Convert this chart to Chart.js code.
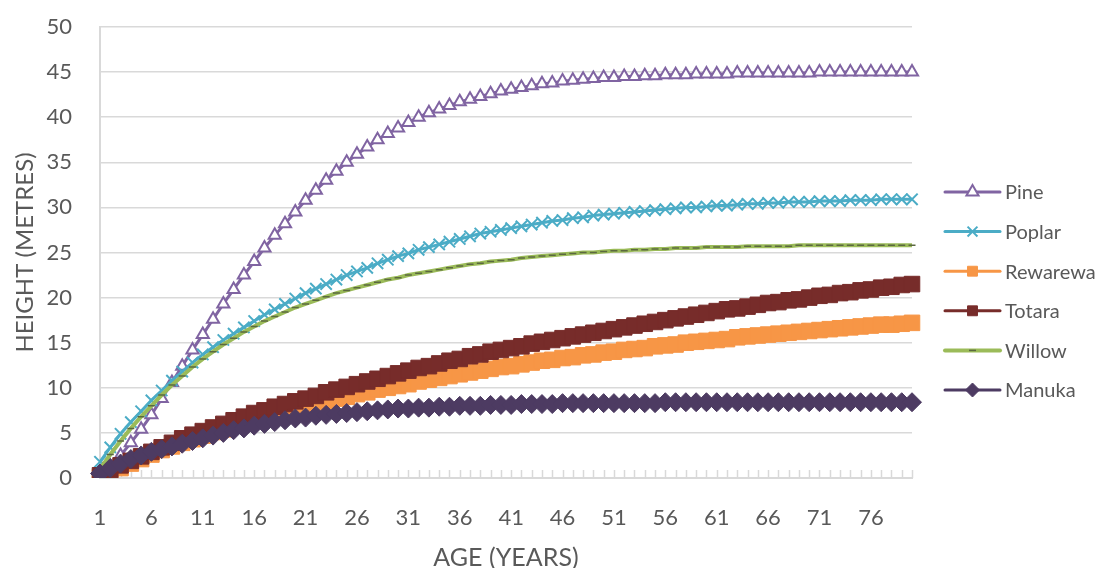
<!DOCTYPE html>
<html>
<head>
<meta charset="utf-8">
<script src="https://cdn.jsdelivr.net/npm/chart.js@4.4.1/dist/chart.umd.min.js"></script>
<style>
  html, body { margin: 0; padding: 0; background: #ffffff; }
  #wrap { width: 1109px; height: 568px; }
</style>
</head>
<body>
<div id="wrap"><canvas id="growth" width="1109" height="568"></canvas></div>
<script>
// Age of tree in years (category axis)
const ages = [
  1, 2, 3, 4, 5, 6, 7, 8, 9, 10, 11, 12, 13, 14, 15, 16, 17, 18, 19, 20,
  21, 22, 23, 24, 25, 26, 27, 28, 29, 30, 31, 32, 33, 34, 35, 36, 37, 38, 39, 40,
  41, 42, 43, 44, 45, 46, 47, 48, 49, 50, 51, 52, 53, 54, 55, 56, 57, 58, 59, 60,
  61, 62, 63, 64, 65, 66, 67, 68, 69, 70, 71, 72, 73, 74, 75, 76, 77, 78, 79, 80
];

// Height in metres for each species by age
const pine = [
  0.3, 1.3, 2.5, 3.9, 5.4, 7.0, 8.8, 10.6, 12.4, 14.2,
  15.9, 17.6, 19.3, 20.9, 22.5, 24.0, 25.5, 26.9, 28.2, 29.5,
  30.8, 31.9, 33.0, 34.0, 35.0, 35.9, 36.7, 37.5, 38.2, 38.8,
  39.4, 40.0, 40.5, 40.9, 41.3, 41.7, 42.0, 42.3, 42.6, 42.9,
  43.1, 43.3, 43.5, 43.7, 43.8, 44.0, 44.1, 44.2, 44.3, 44.4,
  44.4, 44.5, 44.5, 44.6, 44.6, 44.7, 44.7, 44.7, 44.8, 44.8,
  44.8, 44.8, 44.9, 44.9, 44.9, 44.9, 44.9, 44.9, 44.9, 44.9,
  45.0, 45.0, 45.0, 45.0, 45.0, 45.0, 45.0, 45.0, 45.0, 45.0
];
const poplar = [
  1.8, 3.4, 4.9, 6.2, 7.4, 8.6, 9.7, 10.8, 11.8, 12.8,
  13.7, 14.5, 15.3, 16.0, 16.7, 17.4, 18.1, 18.7, 19.3, 19.9,
  20.5, 21.0, 21.5, 22.0, 22.5, 22.9, 23.3, 23.8, 24.2, 24.6,
  24.9, 25.3, 25.6, 25.9, 26.2, 26.5, 26.8, 27.1, 27.3, 27.5,
  27.7, 27.9, 28.1, 28.3, 28.5, 28.6, 28.8, 28.9, 29.1, 29.2,
  29.3, 29.4, 29.5, 29.6, 29.7, 29.8, 29.9, 30.0, 30.0, 30.1,
  30.2, 30.2, 30.3, 30.4, 30.4, 30.5, 30.5, 30.6, 30.6, 30.6,
  30.7, 30.7, 30.7, 30.8, 30.8, 30.8, 30.9, 30.9, 30.9, 30.9
];
const rewarewa = [
  0.1, 0.6, 1.1, 1.6, 2.1, 2.6, 3.1, 3.5, 3.9, 4.3,
  4.7, 5.1, 5.4, 5.8, 6.1, 6.5, 6.8, 7.1, 7.4, 7.7,
  8.0, 8.3, 8.5, 8.8, 9.0, 9.3, 9.5, 9.8, 10.0, 10.2,
  10.4, 10.7, 10.9, 11.1, 11.3, 11.5, 11.7, 11.9, 12.1, 12.3,
  12.4, 12.6, 12.8, 13.0, 13.1, 13.3, 13.4, 13.6, 13.7, 13.9,
  14.0, 14.2, 14.3, 14.4, 14.6, 14.7, 14.8, 15.0, 15.1, 15.2,
  15.3, 15.4, 15.6, 15.7, 15.8, 15.9, 16.0, 16.1, 16.2, 16.3,
  16.4, 16.5, 16.6, 16.7, 16.8, 16.9, 17.0, 17.0, 17.1, 17.2
];
const totara = [
  0.3, 0.9, 1.4, 1.9, 2.4, 2.9, 3.4, 3.9, 4.4, 4.8,
  5.2, 5.6, 6.0, 6.4, 6.8, 7.2, 7.5, 7.9, 8.2, 8.5,
  8.8, 9.1, 9.5, 9.8, 10.1, 10.4, 10.7, 11.0, 11.3, 11.6,
  11.9, 12.2, 12.4, 12.7, 13.0, 13.2, 13.5, 13.7, 14.0, 14.2,
  14.4, 14.6, 14.9, 15.1, 15.3, 15.5, 15.7, 15.9, 16.1, 16.3,
  16.5, 16.7, 16.9, 17.1, 17.3, 17.5, 17.7, 17.9, 18.1, 18.3,
  18.5, 18.7, 18.8, 19.0, 19.2, 19.4, 19.5, 19.7, 19.8, 20.0,
  20.2, 20.3, 20.5, 20.6, 20.8, 20.9, 21.1, 21.2, 21.4, 21.5
];
const willow = [
  1.0, 2.6, 4.1, 5.5, 6.8, 8.0, 9.2, 10.3, 11.3, 12.3,
  13.2, 14.0, 14.8, 15.5, 16.2, 16.8, 17.4, 17.9, 18.4, 18.9,
  19.3, 19.7, 20.1, 20.5, 20.8, 21.1, 21.4, 21.7, 22.0, 22.2,
  22.5, 22.7, 22.9, 23.1, 23.3, 23.5, 23.7, 23.8, 24.0, 24.1,
  24.2, 24.4, 24.5, 24.6, 24.7, 24.8, 24.9, 25.0, 25.0, 25.1,
  25.2, 25.2, 25.3, 25.3, 25.4, 25.4, 25.5, 25.5, 25.5, 25.6,
  25.6, 25.6, 25.6, 25.7, 25.7, 25.7, 25.7, 25.7, 25.8, 25.8,
  25.8, 25.8, 25.8, 25.8, 25.8, 25.8, 25.8, 25.8, 25.8, 25.8
];
const manuka = [
  0.5, 1.1, 1.6, 2.1, 2.5, 2.9, 3.2, 3.5, 3.8, 4.1,
  4.4, 4.7, 5.0, 5.3, 5.5, 5.8, 6.0, 6.2, 6.4, 6.6,
  6.7, 6.9, 7.0, 7.1, 7.2, 7.3, 7.4, 7.5, 7.6, 7.7,
  7.7, 7.8, 7.8, 7.9, 7.9, 8.0, 8.0, 8.0, 8.1, 8.1,
  8.1, 8.2, 8.2, 8.2, 8.2, 8.3, 8.3, 8.3, 8.3, 8.3,
  8.3, 8.3, 8.3, 8.3, 8.3, 8.4, 8.4, 8.4, 8.4, 8.4,
  8.4, 8.4, 8.4, 8.4, 8.4, 8.4, 8.4, 8.4, 8.4, 8.4,
  8.4, 8.4, 8.4, 8.4, 8.4, 8.4, 8.4, 8.4, 8.4, 8.4
];

const speciesNames = ['Pine', 'Poplar', 'Rewarewa', 'Totara', 'Willow', 'Manuka'];
const yTicks = [0, 5, 10, 15, 20, 25, 30, 35, 40, 45, 50];
const xLabelEvery = 5;

const textColor = '#595959';
const gridColor = '#D9D9D9';
const fontFamily = 'Lato, "Open Sans", sans-serif';

function series(label, data, color, style, extra) {
  return Object.assign({
    label, data,
    borderColor: color,
    backgroundColor: color,
    borderWidth: 3,
    tension: 0,
    pointStyle: style,
    pointBorderColor: color,
    pointBackgroundColor: color,
    pointBorderWidth: 1,
    pointRadius: 5,
    pointHoverRadius: 5
  }, extra || {});
}

// Pine is drawn first (underneath), Manuka last (on top)
const datasets = [
  series(speciesNames[0], pine, '#8064A2', 'triangle',
    { pointBackgroundColor: '#ffffff', pointBorderWidth: 2, pointRadius: 7, order: 6 }),
  series(speciesNames[1], poplar, '#4BACC6', 'crossRot',
    { pointBorderWidth: 2, pointRadius: 8, order: 5 }),
  series(speciesNames[2], rewarewa, '#F79646', 'rect',
    { pointRadius: 11, order: 4 }),
  series(speciesNames[3], totara, '#772C2A', 'rect',
    { pointRadius: 11, order: 3 }),
  series(speciesNames[4], willow, '#9BBB59', 'line',
    { pointBorderColor: '#5B6840', pointBorderWidth: 1.5, pointRadius: 3.5, borderWidth: 4, order: 2 }),
  series(speciesNames[5], manuka, '#4D3B62', 'rectRot',
    { pointRadius: 9.5, order: 1 })
];

// Short inward tick marks on the age axis, and a line+marker legend at the right
const chartExtras = {
  id: 'chartExtras',
  beforeDatasetsDraw(chart) {
    const { ctx, chartArea } = chart;
    const x = chart.scales.x;
    ctx.save();
    ctx.strokeStyle = gridColor;
    ctx.lineWidth = 1.5;
    for (let i = 0; i < ages.length; i++) {
      const px = Math.round(x.getPixelForValue(i)) + 0.5;
      ctx.beginPath();
      ctx.moveTo(px, chartArea.bottom);
      ctx.lineTo(px, chartArea.bottom - 8);
      ctx.stroke();
    }
    ctx.restore();
  },
  afterDraw(chart) {
    const { ctx } = chart;
    const lx0 = 945, lx1 = 1000, tx = 1005, y0 = 192, dy = 39.6;
    chart.data.datasets.forEach((ds, i) => {
      const y = y0 + i * dy;
      ctx.save();
      ctx.strokeStyle = ds.borderColor;
      ctx.lineWidth = ds.borderWidth;
      ctx.lineCap = 'round';
      ctx.beginPath();
      ctx.moveTo(lx0, y);
      ctx.lineTo(lx1, y);
      ctx.stroke();
      ctx.fillStyle = ds.pointBackgroundColor;
      ctx.strokeStyle = ds.pointBorderColor;
      ctx.lineWidth = ds.pointBorderWidth;
      ctx.lineCap = 'butt';
      Chart.helpers.drawPoint(ctx, {
        pointStyle: ds.pointStyle,
        radius: Math.min(ds.pointRadius, 7),
        borderWidth: ds.pointBorderWidth,
        rotation: 0
      }, (lx0 + lx1) / 2, y);
      ctx.fillStyle = textColor;
      ctx.font = '20px ' + fontFamily;
      ctx.textAlign = 'left';
      ctx.textBaseline = 'middle';
      ctx.fillText(ds.label, tx, y + 1);
      ctx.restore();
    });
  }
};

new Chart(document.getElementById('growth'), {
  type: 'line',
  data: { labels: ages, datasets },
  plugins: [chartExtras],
  options: {
    responsive: false,
    animation: false,
    layout: { padding: { left: 8, top: 27, right: 197, bottom: 0 } },
    plugins: {
      legend: { display: false },
      tooltip: { enabled: false },
      title: { display: false }
    },
    scales: {
      x: {
        type: 'category',
        offset: false,
        grid: { display: false, drawTicks: false },
        border: { display: true, color: gridColor, width: 2 },
        ticks: {
          autoSkip: false,
          maxRotation: 0,
          minRotation: 0,
          padding: 27,
          color: textColor,
          font: { family: fontFamily, size: 22 },
          callback: (v, i) => (i % xLabelEvery === 0 ? String(ages[i]) : '')
        },
        title: {
          display: true,
          text: 'AGE (YEARS)',
          color: textColor,
          font: { family: fontFamily, size: 25 },
          padding: { top: 0, bottom: -5 }
        },
        afterFit(scale) { scale.height = 90; }
      },
      y: {
        min: 0,
        max: 50,
        afterBuildTicks(scale) { scale.ticks = yTicks.map(v => ({ value: v })); },
        grid: { color: gridColor, lineWidth: 1.5, drawTicks: false },
        border: { display: true, color: gridColor, width: 2 },
        ticks: {
          padding: 28,
          color: textColor,
          font: { family: fontFamily, size: 22 }
        },
        title: {
          display: true,
          text: 'HEIGHT (METRES)',
          color: textColor,
          font: { family: fontFamily, size: 24 },
          padding: { top: 3, bottom: 0 }
        },
        afterFit(scale) {
          scale.width = 92;
          scale.paddingTop = 0;
          scale.paddingBottom = 0;
        }
      }
    }
  }
});
</script>
</body>
</html>
